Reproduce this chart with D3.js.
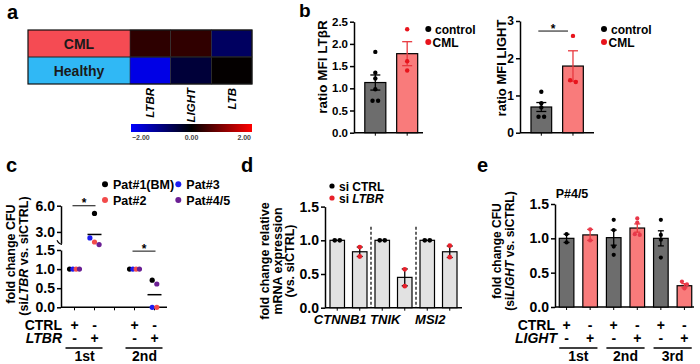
<!DOCTYPE html>
<html><head><meta charset="utf-8">
<script src="https://cdn.jsdelivr.net/npm/d3@7"></script>
<style>
html,body{margin:0;padding:0;background:#fff;}
svg text{font-family:"Liberation Sans",Arial,sans-serif;font-weight:bold;fill:#000;}
</style></head><body>
<svg id="chart" width="700" height="364"></svg>
<script>
// ---------- Panel a data ----------
const heatRows = ["CML", "Healthy"];
const heatGenes = ["LTBR", "LIGHT", "LTB"];
const heatCML = [0.35, 0.38, -0.75];
const heatHealthy = [-1.8, -0.45, 0.03];
const heatScaleTicks = [-2, 0, 2];

// ---------- Panel b data ----------
const bGroups = ["control", "CML"];
const bLtbrMean = [1.13, 1.78];
const bLtbrSem = [0.17, 0.27];
const bLtbrControl = [1.82, 1.35, 1.22, 0.98, 0.72, 0.72];
const bLtbrCML = [2.33, 1.61, 1.40];
const bLtbrTicks = [0, 0.5, 1.0, 1.5, 2.0, 2.5];
const bLightMean = [0.69, 1.79];
const bLightSem = [0.12, 0.41];
const bLightControl = [1.10, 0.79, 0.68, 0.43, 0.43];
const bLightCML = [2.60, 1.36, 1.41];
const bLightTicks = [0, 1, 2, 3];

// ---------- Panel c data ----------
const cPatients = ["Pat#1(BM)", "Pat#3", "Pat#2", "Pat#4/5"];
const cSlots = ["1st CTRL", "1st LTBR", "", "2nd CTRL", "2nd LTBR"];
const cRounds = ["1st", "2nd"];
const c1stCtrl = [1, 1, 1, 1];
const c1stLtbr = [5.12, 2.31, 1.85, 1.55];
const c2ndCtrl = [1, 1, 1, 1];
const c2ndLtbr = [0.71, 0, 0, 0.61];
const cMeans = [1, 2.71, 1, 0.33];
const cTicksLow = [0, 0.5, 1.0, 1.5];
const cTicksHigh = [3, 6];
const cCtrlSigns = ["+", "-", "+", "-"];
const cLtbrSigns = ["-", "+", "-", "+"];

// ---------- Panel d data ----------
const dGenes = ["CTNNB1", "TNIK", "MSI2"];
const dCtrlMean = [1, 1, 1];
const dLtbrMean = [0.83, 0.45, 0.83];
const dLtbrErr = [0.07, 0.125, 0.085];
const dCtrlPts = [[1, 1], [1, 1], [1, 1]];
const dLtbrPts = [[0.90, 0.76], [0.57, 0.32], [0.92, 0.75]];
const dTicks = [0, 0.5, 1.0, 1.5];

// ---------- Panel e data ----------
const eRounds = ["1st", "2nd", "3rd"];
const eCtrlMean = [1.0, 1.01, 1.0];
const eLightMean = [1.05, 1.15, 0.31];
const eCtrlErr = [0.06, 0.11, 0.11];
const eLightErr = [0.08, 0.06, 0.03];
const eCtrlPts = [[1.06, 0.94], [1.27, 1.12, 0.88, 0.76], [1.27, 1.05, 0.98, 0.72]];
const eLightPts = [[1.13, 0.97], [1.29, 1.23, 1.05, 1.06], [0.37, 0.33, 0.27]];
const eTicks = [0, 0.5, 1.0, 1.5];
const eCtrlSigns = ["+", "-", "+", "-", "+", "-"];
const eLightSigns = ["-", "+", "-", "+", "-", "+"];

// ================= helpers =================
const FONT = '"Liberation Sans",Arial,sans-serif';
const svg = d3.select("#chart");
const defs = svg.append("defs");

function label(g, x, y, s, size, anchor = "start", italic = false) {
  const t = g.append("text").attr("x", x).attr("y", y).attr("font-size", size)
    .attr("text-anchor", anchor).text(s);
  if (italic) t.attr("font-style", "italic");
  return t;
}
function vlabel(g, x, y, parts, size) {
  const t = g.append("text").attr("transform", `translate(${x},${y}) rotate(-90)`)
    .attr("text-anchor", "middle").attr("font-size", size);
  parts.forEach(p => {
    const ts = t.append("tspan").text(p[0]);
    if (p[1]) ts.attr("font-style", "italic");
  });
  return t;
}
function yAxis(g, scale, x, ticks, fmt, size) {
  const ax = d3.axisLeft(scale).tickValues(ticks).tickFormat(fmt)
    .tickSize(4).tickSizeOuter(0).tickPadding(2);
  const a = g.append("g").attr("transform", `translate(${x},0)`).call(ax)
    .attr("font-family", FONT).attr("font-size", size);
  a.select(".domain").attr("stroke", "#000").attr("stroke-width", 1.5);
  a.selectAll(".tick line").attr("stroke", "#000").attr("stroke-width", 1.5);
  a.selectAll(".tick text").attr("font-weight", "bold").attr("fill", "#000");
  return a;
}
function xBase(g, x0, x1, y, tickXs) {
  g.append("line").attr("x1", x0).attr("x2", x1).attr("y1", y).attr("y2", y)
    .attr("stroke", "#000").attr("stroke-width", 1.5);
  tickXs.forEach(tx => g.append("line").attr("x1", tx).attr("x2", tx)
    .attr("y1", y).attr("y2", y + 3).attr("stroke", "#000").attr("stroke-width", 1));
}
function bar(g, x, w, yS, v, fill) {
  g.append("rect").attr("x", x).attr("width", w).attr("y", yS(v))
    .attr("height", yS(0) - yS(v)).attr("fill", fill)
    .attr("stroke", "#000").attr("stroke-width", 1.2);
}
function errBar(g, cx, yS, m, e, cap, color) {
  const y1 = yS(m + e), y2 = yS(m - e);
  g.append("line").attr("x1", cx).attr("x2", cx).attr("y1", y1).attr("y2", y2)
    .attr("stroke", color).attr("stroke-width", 1.3);
  [y1, y2].forEach(yy => g.append("line").attr("x1", cx - cap / 2).attr("x2", cx + cap / 2)
    .attr("y1", yy).attr("y2", yy).attr("stroke", color).attr("stroke-width", 1.3));
}
function dodge(vals, yS, cx, thresh, spacing) {
  const items = vals.map((v, i) => ({ v, i, y: yS(v) }));
  const sorted = items.slice().sort((a, b) => (a.y - b.y) || (a.i - b.i));
  const clusters = []; let cur = [];
  sorted.forEach(it => {
    if (cur.length && it.y - cur[cur.length - 1].y >= thresh) { clusters.push(cur); cur = []; }
    cur.push(it);
  });
  if (cur.length) clusters.push(cur);
  clusters.forEach(cl => cl.forEach((it, j) => { it.x = cx + (j - (cl.length - 1) / 2) * spacing; }));
  return items;
}
function dots(g, pts, color, r) {
  pts.forEach(p => g.append("circle").attr("cx", p.x).attr("cy", p.y).attr("r", r).attr("fill", color));
}

const GRAY = "#6d6d6d", SALMON = "#f97b7b", RED = "#e8141c", REDERR = "#e8393f";

// ================= Panel a =================
const gA = svg.append("g");
label(gA, 7, 18.5, "a", 20);
const aX = d3.scaleBand().domain(heatGenes).range([130, 252]);
const aY = d3.scaleBand().domain(heatRows).range([30, 84]);
const heatColor = d3.scaleLinear().domain([-2, 0, 2]).range(["#0000ff", "#000000", "#ff0000"]).clamp(true);
const rowColor = { CML: "#f54b53", Healthy: "#30b8f5" };
heatRows.forEach((r, i) => {
  gA.append("rect").attr("x", 28).attr("y", aY(r)).attr("width", aX.range()[0] - 28)
    .attr("height", aY.bandwidth()).attr("fill", rowColor[r]);
  label(gA, 79, aY(r) + aY.bandwidth() / 2 + 5, r, 14, "middle").style("fill", "#1a1a1a");
  const vals = i === 0 ? heatCML : heatHealthy;
  heatGenes.forEach((gn, j) => {
    gA.append("rect").attr("x", aX(gn)).attr("y", aY(r)).attr("width", aX.bandwidth())
      .attr("height", aY.bandwidth()).attr("fill", heatColor(vals[j]))
      .attr("stroke", "#333").attr("stroke-width", 0.6);
  });
});
gA.append("rect").attr("x", 28).attr("y", 30).attr("width", 224).attr("height", 54)
  .attr("fill", "none").attr("stroke", "#111").attr("stroke-width", 1.2);
gA.append("line").attr("x1", 28).attr("x2", 252).attr("y1", aY("Healthy")).attr("y2", aY("Healthy"))
  .attr("stroke", "#222").attr("stroke-width", 1);
heatGenes.forEach(gn => {
  gA.append("text").attr("transform", `translate(${aX(gn) + aX.bandwidth() / 2 + 4},88) rotate(-90)`)
    .attr("text-anchor", "end").attr("font-size", 11.5).attr("font-style", "italic").text(gn);
});
const cbX = d3.scaleLinear().domain([-2, 2]).range([131, 252]);
const grad = defs.append("linearGradient").attr("id", "cbgrad");
d3.range(-2, 2.01, 0.25).forEach(v => grad.append("stop")
  .attr("offset", (cbX(v) - 131) / 121).attr("stop-color", heatColor(v)));
gA.append("rect").attr("x", cbX(-2)).attr("y", 124).attr("width", cbX(2) - cbX(-2)).attr("height", 8)
  .attr("fill", "url(#cbgrad)");
heatScaleTicks.forEach((t, i) => {
  const anc = i === 0 ? "start" : (i === heatScaleTicks.length - 1 ? "end" : "middle");
  const x = cbX(t) + (i === 0 ? 1 : (anc === "end" ? -1 : 0));
  label(gA, x, 140, d3.format(".2f")(t), 7, anc).attr("font-weight", "normal").style("fill", "#444");
});

// ================= Panel b (left) =================
const gB = svg.append("g");
label(gB, 299, 17, "b", 19);
const b1Y = d3.scaleLinear().domain([0, 2.5]).range([132.7, 21.7]);
const b1X = d3.scaleBand().domain(bGroups).range([361.3, 421.2]).paddingInner(0.34).paddingOuter(0.11);
yAxis(gB, b1Y, 354, bLtbrTicks, d3.format(".1f"), 11.5);
xBase(gB, 354, 423, b1Y(0), bGroups.map(g => b1X(g) + b1X.bandwidth() / 2));
[bLtbrControl, bLtbrCML].forEach((pts, i) => {
  const g = bGroups[i], cx = b1X(g) + b1X.bandwidth() / 2;
  bar(gB, b1X(g), b1X.bandwidth(), b1Y, bLtbrMean[i], i ? SALMON : GRAY);
  errBar(gB, cx, b1Y, bLtbrMean[i], bLtbrSem[i], 10, i ? REDERR : "#000");
  dots(gB, dodge(pts, b1Y, cx, 4, 5.6), i ? RED : "#000", 2.2);
});
vlabel(gB, 327, 67, [["ratio MFI LTβR"]], 13.5);
gB.append("circle").attr("cx", 428.3).attr("cy", 29).attr("r", 3).attr("fill", "#000");
label(gB, 435, 33.5, "control", 12);
gB.append("circle").attr("cx", 428.3).attr("cy", 42).attr("r", 3).attr("fill", RED);
label(gB, 432.5, 46.5, "CML", 12);

// ================= Panel b (right) =================
const b2Y = d3.scaleLinear().domain([0, 3]).range([132.7, 21]);
const b2X = d3.scaleBand().domain(bGroups).range([527.5, 586.8]).paddingInner(0.347).paddingOuter(0.11);
yAxis(gB, b2Y, 520, bLightTicks, d3.format("d"), 12);
xBase(gB, 520, 594, b2Y(0), bGroups.map(g => b2X(g) + b2X.bandwidth() / 2));
[bLightControl, bLightCML].forEach((pts, i) => {
  const g = bGroups[i], cx = b2X(g) + b2X.bandwidth() / 2;
  bar(gB, b2X(g), b2X.bandwidth(), b2Y, bLightMean[i], i ? SALMON : GRAY);
  errBar(gB, cx, b2Y, bLightMean[i], bLightSem[i], 10, i ? REDERR : "#000");
  dots(gB, dodge(pts, b2Y, cx, 4, 5.6), i ? RED : "#000", 2.2);
});
{
  const x0 = b2X("control") + b2X.bandwidth() / 2 - 3, x1 = b2X("CML") + b2X.bandwidth() / 2 - 5;
  gB.append("line").attr("x1", x0).attr("x2", x1).attr("y1", b2Y(2.73)).attr("y2", b2Y(2.73))
    .attr("stroke", "#333").attr("stroke-width", 1.2);
  label(gB, (x0 + x1) / 2, b2Y(2.73) + 1.5, "*", 12, "middle");
}
vlabel(gB, 506, 68, [["ratio MFI LIGHT"]], 13);
gB.append("circle").attr("cx", 604).attr("cy", 29).attr("r", 3).attr("fill", "#000");
label(gB, 611, 33.5, "control", 12);
gB.append("circle").attr("cx", 604).attr("cy", 42).attr("r", 3).attr("fill", RED);
label(gB, 608.5, 46.5, "CML", 12);

// ================= Panel c =================
const gC = svg.append("g");
label(gC, 6, 172, "c", 20);
const cColor = { "Pat#1(BM)": "#000000", "Pat#2": "#f24a4a", "Pat#3": "#1c1cf0", "Pat#4/5": "#6b1f94" };
const cX = d3.scalePoint().domain(cSlots).range([74.5, 154.5]);
const cYLow = d3.scaleLinear().domain([0, 1.5]).range([307.3, 250]);
const cYHigh = d3.scaleLinear().domain([1.7, 6]).range([243.3, 205.7]);
const cY = v => (v > 1.5 ? cYHigh(v) : cYLow(v));
yAxis(gC, cYLow, 61, cTicksLow, d3.format(".1f"), 14);
yAxis(gC, cYHigh, 61, cTicksHigh, d3.format(".1f"), 14);
// break mark
gC.append("path").attr("d", `M57,${cYHigh(1.7) - 3} Q59,${cYHigh(1.7) + 1} 62,${cYHigh(1.7) + 1}`)
  .attr("fill", "none").attr("stroke", "#000").attr("stroke-width", 1.2);
xBase(gC, 61, 167, cYLow(0), cSlots.map(s => cX(s)));
const cSets = [c1stCtrl, c1stLtbr, c2ndCtrl, c2ndLtbr];
const cUsedSlots = cSlots.filter(s => s !== "");
cSets.forEach((vals, k) => {
  const cx = cX(cUsedSlots[k]);
  gC.append("line").attr("x1", cx - 7).attr("x2", cx + 7).attr("y1", cY(cMeans[k])).attr("y2", cY(cMeans[k]))
    .attr("stroke", "#000").attr("stroke-width", 1.5);
  const pts = dodge(vals, cY, cx, 4.5, k % 2 === 0 ? 3.3 : 4.6);
  pts.forEach(p => gC.append("circle").attr("cx", p.x).attr("cy", p.y).attr("r", 2.6)
    .attr("fill", cColor[cPatients[p.i]]));
});
// significance
[[0, 1, cYHigh(6)], [2, 3, cYLow(1.47)]].forEach(([a, b, yy]) => {
  const x0 = cX(cUsedSlots[a]) - 2, x1 = cX(cUsedSlots[b]) + 1;
  gC.append("line").attr("x1", x0).attr("x2", x1).attr("y1", yy).attr("y2", yy)
    .attr("stroke", "#333").attr("stroke-width", 1.2);
  label(gC, (x0 + x1) / 2, yy + 1.5, "*", 12, "middle");
});
// legend
cPatients.forEach((p, i) => {
  const lx = 105 + (i % 2) * 73.3, ly = 184.3 + Math.floor(i / 2) * 15.7;
  gC.append("circle").attr("cx", lx).attr("cy", ly).attr("r", 3).attr("fill", cColor[p]);
  label(gC, lx + 8, ly + 4.5, p, 12.5);
});
vlabel(gC, 14.5, 254, [["fold change CFU"]], 12.5);
vlabel(gC, 27.5, 256, [["(si"], ["LTBR", true], [" vs. siCTRL)"]], 12.5);
label(gC, 62, 330, "CTRL", 14, "end");
label(gC, 62, 342.5, "LTBR", 14, "end", true);
cUsedSlots.forEach((s, k) => {
  label(gC, cX(s), 330, cCtrlSigns[k], 14, "middle");
  label(gC, cX(s), 342.5, cLtbrSigns[k], 14, "middle");
});
cRounds.forEach((r, i) => {
  const xa = cX(cUsedSlots[2 * i]), xb = cX(cUsedSlots[2 * i + 1]);
  gC.append("line").attr("x1", xa - 9).attr("x2", xb + 8).attr("y1", 348).attr("y2", 348)
    .attr("stroke", "#000").attr("stroke-width", 1.5);
  label(gC, (xa + xb) / 2, 361, r, 14, "middle");
});

// ================= Panel d =================
const gD = svg.append("g");
label(gD, 241, 172, "d", 20);
const dSlots = dGenes.flatMap(g => [g + "|CTRL", g + "|LTBR"]);
const dX = d3.scaleBand().domain(dSlots).range([325, 462]).paddingInner(0.356).paddingOuter(0.222);
const dY = d3.scaleLinear().domain([0, 1.5]).range([307.7, 206.6]);
yAxis(gD, dY, 325, dTicks, d3.format(".1f"), 14);
xBase(gD, 325, 462, dY(0), dSlots.map(s => dX(s) + dX.bandwidth() / 2));
dGenes.forEach((g, i) => {
  const s0 = g + "|CTRL", s1 = g + "|LTBR";
  const c0 = dX(s0) + dX.bandwidth() / 2, c1 = dX(s1) + dX.bandwidth() / 2;
  bar(gD, dX(s0), dX.bandwidth(), dY, dCtrlMean[i], "#e2e2e2");
  bar(gD, dX(s1), dX.bandwidth(), dY, dLtbrMean[i], "#e2e2e2");
  errBar(gD, c1, dY, dLtbrMean[i], dLtbrErr[i], 6, "#000");
  dots(gD, dodge(dCtrlPts[i], dY, c0, 4, 5), "#000", 2.4);
  dots(gD, dodge(dLtbrPts[i], dY, c1, 4, 5), "#e8202a", 2.4);
  label(gD, c0 + 3, 324, g, 13, "middle", true);
  if (i > 0) {
    const xs = (dX(dGenes[i - 1] + "|LTBR") + dX.bandwidth() + dX(s0)) / 2;
    gD.append("line").attr("x1", xs).attr("x2", xs).attr("y1", dY(1.2)).attr("y2", dY(0))
      .attr("stroke", "#000").attr("stroke-width", 1.2).attr("stroke-dasharray", "3,2");
  }
});
vlabel(gD, 269, 261, [["fold change relative"]], 12.5);
vlabel(gD, 281.5, 261, [["mRNA expression"]], 12.5);
vlabel(gD, 294, 261, [["(vs. siCTRL)"]], 12.5);
gD.append("circle").attr("cx", 332).attr("cy", 186).attr("r", 2.6).attr("fill", "#000");
label(gD, 339, 190.5, "si CTRL", 12);
gD.append("circle").attr("cx", 332).attr("cy", 198).attr("r", 2.6).attr("fill", "#e8202a");
{
  const t = label(gD, 339, 202.5, "si ", 12);
  t.append("tspan").attr("font-style", "italic").text("LTBR");
}

// ================= Panel e =================
const gE = svg.append("g");
label(gE, 477, 172, "e", 20);
label(gE, 572, 198, "P#4/5", 12.5, "middle");
const eSlots = eRounds.flatMap(r => [r + "|CTRL", r + "|LIGHT"]);
const eX = d3.scaleBand().domain(eSlots).range([557, 694]).paddingInner(0.38).paddingOuter(0.096);
const eY = d3.scaleLinear().domain([0, 1.5]).range([307, 204]);
yAxis(gE, eY, 555, eTicks, d3.format(".1f"), 14);
xBase(gE, 555, 694, eY(0), eSlots.map(s => eX(s) + eX.bandwidth() / 2));
eRounds.forEach((r, i) => {
  const s0 = r + "|CTRL", s1 = r + "|LIGHT";
  const c0 = eX(s0) + eX.bandwidth() / 2, c1 = eX(s1) + eX.bandwidth() / 2;
  bar(gE, eX(s0), eX.bandwidth(), eY, eCtrlMean[i], GRAY);
  bar(gE, eX(s1), eX.bandwidth(), eY, eLightMean[i], SALMON);
  errBar(gE, c0, eY, eCtrlMean[i], eCtrlErr[i], 6, "#000");
  errBar(gE, c1, eY, eLightMean[i], eLightErr[i], 6, REDERR);
  dots(gE, dodge(eCtrlPts[i], eY, c0, 4, 5), "#000", 2.1);
  dots(gE, dodge(eLightPts[i], eY, c1, 4, 5), "#e8384a", 2.1);
  gE.append("line").attr("x1", eX(s0)).attr("x2", eX(s1) + eX.bandwidth()).attr("y1", 348).attr("y2", 348)
    .attr("stroke", "#000").attr("stroke-width", 1.5);
  label(gE, (c0 + c1) / 2, 361, r, 14, "middle");
});
eSlots.forEach((s, k) => {
  const cx = eX(s) + eX.bandwidth() / 2;
  label(gE, cx, 330, eCtrlSigns[k], 14, "middle");
  label(gE, cx, 342.5, eLightSigns[k], 14, "middle");
});
label(gE, 555, 330, "CTRL", 14, "end");
label(gE, 557, 342.5, "LIGHT", 14, "end", true);
vlabel(gE, 500.5, 251, [["fold change CFU"]], 12);
vlabel(gE, 514, 251, [["(si"], ["LIGHT", true], [" vs. siCTRL)"]], 12);
</script>
</body></html>
